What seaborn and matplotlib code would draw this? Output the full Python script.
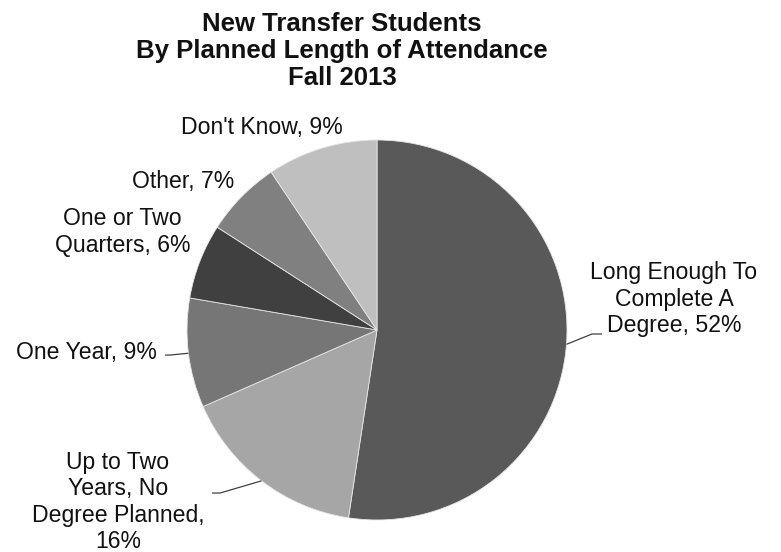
import matplotlib
matplotlib.use("Agg")
import numpy as np
import seaborn as sns
from matplotlib import pyplot as plt

# data
categories = [
    "Long Enough To\nComplete A\nDegree",
    "Up to Two\nYears, No\nDegree Planned,\n",
    "One Year",
    "One or Two\nQuarters",
    "Other",
    "Don't Know",
]
shares = [52.4, 16.0, 9.3, 6.4, 6.5, 9.4]
shown_pct = ["52%", "16%", "9%", "6%", "7%", "9%"]
colors = ["#595959", "#a6a6a6", "#767676", "#404040", "#808080", "#bfbfbf"]

# label layout (data units, pie radius = 1)
label_xy = [(1.563, 0.163), (-1.363, -0.905), (-1.53, -0.116),
            (-1.34, 0.516), (-1.02, 0.78), (-0.605, 1.068)]
# leader lines: (elbow, end) or None
leaders = [((1.132, -0.021), (1.184, -0.021)),
           ((-0.826, -0.858), (-0.868, -0.858)),
           ((-1.09, -0.132), (-1.116, -0.132)),
           None, None, None]

sns.set_theme(style="white")
plt.rcParams["font.family"] = ["Liberation Sans", "DejaVu Sans"]

W, H = 781, 552
cx, cy, r = 377, 330, 190
fig = plt.figure(figsize=(W / 100, H / 100), dpi=100)
ax = fig.add_axes([0, 0, 1, 1])

wedges, _ = ax.pie(shares, colors=colors, startangle=90, counterclock=False,
                   wedgeprops=dict(edgecolor="#e6e6e6", linewidth=0.6))

for w, cat, pct, (tx, ty), ld in zip(wedges, categories, shown_pct, label_xy, leaders):
    text = cat + pct if cat.endswith("\n") else f"{cat}, {pct}"
    ax.text(tx, ty, text, ha="center", va="center", fontsize=16.6,
            color="#111111", linespacing=1.2)
    if ld is not None:
        mid = np.deg2rad((w.theta1 + w.theta2) / 2)
        ex, ey = np.cos(mid), np.sin(mid)
        (bx, by), (kx, ky) = ld
        ax.plot([ex, bx, kx], [ey, by, ky], color="#404040", lw=0.9,
                solid_capstyle="butt")

ax.set_xlim(-cx / r, (W - cx) / r)
ax.set_ylim(-(H - cy) / r, cy / r)
ax.set_aspect("auto")
ax.axis("off")

fig.text(342 / W, 1 - 51 / H,
         "New Transfer Students\nBy Planned Length of Attendance\nFall 2013",
         ha="center", va="center", fontsize=18.5, fontweight="bold",
         color="#111111", linespacing=1.15)

fig.savefig("out.png", dpi=100, facecolor="white")
